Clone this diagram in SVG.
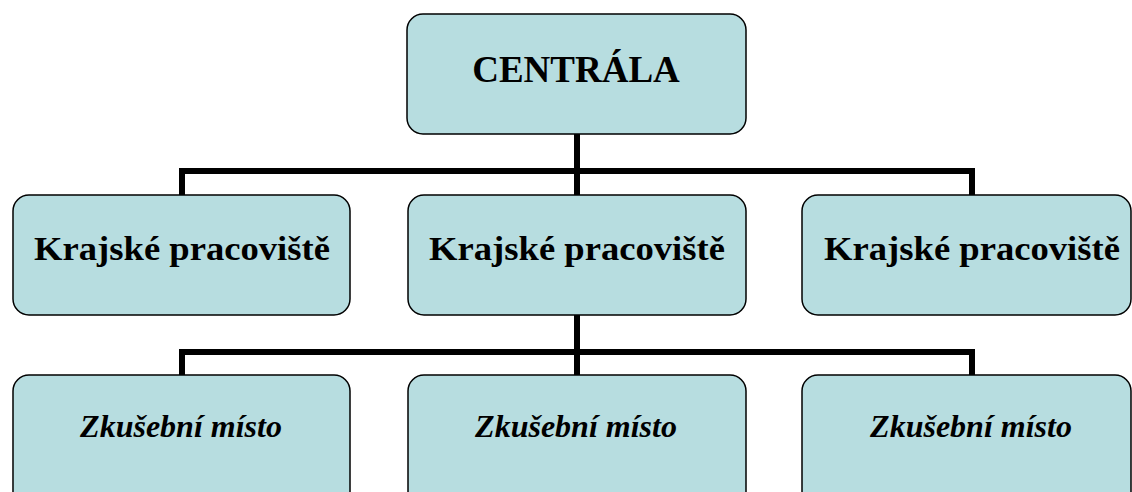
<svg xmlns="http://www.w3.org/2000/svg" width="1132" height="492" viewBox="0 0 1132 492">
<style>
.box{fill:#b7dde0;stroke:#000;stroke-width:1.5}
.conn{fill:none;stroke:#000;stroke-width:6;stroke-linecap:butt;stroke-linejoin:miter}
.t{font-family:"Liberation Serif","Times New Roman",serif;font-weight:bold;text-anchor:middle;fill:#000}
.big{font-size:37px}
.mid{font-size:34px}
.it{font-size:32px;font-style:italic}
</style>
<rect width="1132" height="492" fill="#fff"/>
<g id="connectors">
<path class="conn" d="M577,134 V195 M182,195 V171 H972 V195"/>
<path class="conn" d="M577,315 V375 M182,375 V352 H972 V375"/>
</g>
<g id="centrala">
<rect class="box" x="407" y="14" width="339" height="120" rx="16"/>
<text class="t big" x="576" y="82">CENTRÁLA</text>
</g>
<g id="kp1">
<rect class="box" x="13" y="195" width="337" height="120" rx="16"/>
<text class="t mid" x="182" y="260" textLength="296" lengthAdjust="spacingAndGlyphs">Krajské pracoviště</text>
</g>
<g id="kp2">
<rect class="box" x="408" y="195" width="338" height="120" rx="16"/>
<text class="t mid" x="577" y="260" textLength="296" lengthAdjust="spacingAndGlyphs">Krajské pracoviště</text>
</g>
<g id="kp3">
<rect class="box" x="802" y="195" width="329" height="120" rx="16"/>
<text class="t mid" x="972" y="260" textLength="296" lengthAdjust="spacingAndGlyphs">Krajské pracoviště</text>
</g>
<g id="zm1">
<rect class="box" x="13" y="375" width="337" height="140" rx="16"/>
<text class="t it" x="181" y="437">Zkušební místo</text>
</g>
<g id="zm2">
<rect class="box" x="408" y="375" width="338" height="140" rx="16"/>
<text class="t it" x="576" y="437">Zkušební místo</text>
</g>
<g id="zm3">
<rect class="box" x="802" y="375" width="329" height="140" rx="16"/>
<text class="t it" x="971" y="437">Zkušební místo</text>
</g>
</svg>
